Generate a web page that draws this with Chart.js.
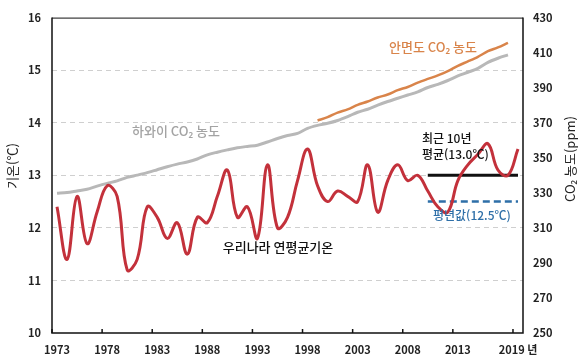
<!DOCTYPE html>
<html lang="ko">
<head>
<meta charset="utf-8">
<script src="https://cdn.jsdelivr.net/npm/chart.js@4.4.0/dist/chart.umd.min.js"></script>
<style>
  html, body { margin: 0; padding: 0; background: #fff; }
  canvas { display: block; }
</style>
</head>
<body>
<canvas id="myChart" width="578" height="359"></canvas>
<script>
const years = [1973, 1974, 1975, 1976, 1977, 1978, 1979, 1980, 1981, 1982,
    1983, 1984, 1985, 1986, 1987, 1988, 1989, 1990, 1991, 1992,
    1993, 1994, 1995, 1996, 1997, 1998, 1999, 2000, 2001, 2002,
    2003, 2004, 2005, 2006, 2007, 2008, 2009, 2010, 2011, 2012,
    2013, 2014, 2015, 2016, 2017, 2018, 2019];

// 우리나라 연평균기온 (°C)
const temperature = [12.4, 11.4, 12.6, 11.7, 12.3, 12.8, 12.6, 11.2, 11.4, 12.4,
    12.2, 11.8, 12.1, 11.5, 12.2, 12.1, 12.6, 13.1, 12.2, 12.4,
    11.8, 13.2, 12.0, 12.2, 12.9, 13.5, 12.8, 12.5, 12.7, 12.6,
    12.5, 13.2, 12.3, 12.9, 13.2, 12.9, 13.0, 12.7, 12.4, 12.3,
    12.9, 13.2, 13.4, 13.6, 13.1, 13.0, 13.5];

// 하와이 CO2 농도 (ppm), 1973-2018
const hawaiiCO2 = [329.7, 330.2, 331.1, 332.0, 333.8, 335.4, 336.8, 338.8, 340.1, 341.5,
    343.2, 344.9, 346.4, 347.6, 349.3, 351.7, 353.2, 354.5, 355.7, 356.5,
    357.2, 359.0, 361.0, 362.7, 363.9, 366.8, 368.5, 369.7, 371.3, 373.5,
    376.0, 377.7, 380.0, 382.1, 384.0, 385.8, 387.6, 390.1, 391.9, 394.1,
    396.7, 398.8, 401.0, 404.4, 406.8, 408.7];

// 안면도 CO2 농도 (ppm), 1999-2018
const anmyeonStart = 1999;
const anmyeonCO2 = [371.3, 373.2, 375.8, 377.6, 380.2, 382.1, 384.4, 386.1, 388.6, 390.4,
    392.9, 395.0, 397.0, 399.4, 402.5, 405.0, 407.6, 410.8, 413.0, 415.6];

// 최근 10년 평균 / 평년값
const recentFrom = 2010;
const recentAvg = 13.0;
const normalTemp = 12.5;

const tickYears = [1973, 1978, 1983, 1988, 1993, 1998, 2003, 2008, 2013, 2019];
const tempTicks = [10, 11, 12, 13, 14, 15, 16];
const co2Ticks = [250, 270, 290, 310, 330, 350, 370, 390, 410, 430];

const FONT = '"Noto Sans CJK KR", "Noto Sans", sans-serif';

const hawaiiData = years.map((yr, i) => i < hawaiiCO2.length ? hawaiiCO2[i] : null);
const anmyeonData = years.map(yr => {
    const k = yr - anmyeonStart;
    return k >= 0 && k < anmyeonCO2.length ? anmyeonCO2[k] : null;
});
const recentData = years.map(yr => yr >= recentFrom ? recentAvg : null);
const normalData = years.map(yr => yr >= recentFrom ? normalTemp : null);

const decorations = {
    id: 'decorations',
    afterDraw(chart) {
        const { ctx, chartArea: a, scales: { x } } = chart;
        ctx.save();

        // 테두리
        ctx.strokeStyle = '#111';
        ctx.lineWidth = 1;
        ctx.beginPath();
        ctx.moveTo(a.left, a.top + 0.5);
        ctx.lineTo(a.right, a.top + 0.5);
        ctx.stroke();
        ctx.lineWidth = 1.5;
        ctx.beginPath();
        ctx.moveTo(a.left, a.top);
        ctx.lineTo(a.left, a.bottom);
        ctx.lineTo(a.right, a.bottom);
        ctx.lineTo(a.right, a.top);
        ctx.stroke();

        // x축 눈금
        const half = (x.getPixelForValue(1) - x.getPixelForValue(0)) / 2;
        ctx.lineWidth = 1.5;
        tickYears.forEach(yr => {
            const px = x.getPixelForValue(years.indexOf(yr)) - half;
            ctx.beginPath();
            ctx.moveTo(px, a.bottom);
            ctx.lineTo(px, a.bottom - 4);
            ctx.stroke();
        });

        // 축 제목
        ctx.fillStyle = '#222';
        ctx.textAlign = 'center';
        ctx.textBaseline = 'middle';
        ctx.font = '13px ' + FONT;
        ctx.save();
        ctx.translate(12, 166);
        ctx.rotate(-Math.PI / 2);
        ctx.fillText('기온(℃)', 0, 0);
        ctx.restore();
        ctx.save();
        ctx.translate(570, 159);
        ctx.rotate(-Math.PI / 2);
        ctx.fillText('CO₂ 농도(ppm)', 0, 0);
        ctx.restore();

        // 주석
        ctx.font = '500 13px ' + FONT;
        ctx.fillStyle = '#a3a3a3';
        ctx.fillText('하와이 CO₂ 농도', 176, 131);
        ctx.fillStyle = '#d9844a';
        ctx.fillText('안면도 CO₂ 농도', 433, 47);
        ctx.fillStyle = '#111';
        ctx.fillText('우리나라 연평균기온', 278, 247);
        ctx.textAlign = 'left';
        ctx.font = '500 12px ' + FONT;
        ctx.fillText('최근 10년', 422, 138);
        ctx.fillText('평균(13.0℃)', 422, 154);
        ctx.fillStyle = '#2e6fa8';
        ctx.fillText('평년값(12.5℃)', 433, 215);

        ctx.restore();
    }
};

const ctx = document.getElementById('myChart').getContext('2d');
const myChart = new Chart(ctx, {
    type: 'line',
    data: {
        labels: years,
        datasets: [{
            label: '우리나라 연평균기온',
            data: temperature,
            yAxisID: 'y',
            borderColor: '#c3313b',
            borderWidth: 3,
            tension: 0.4,
            pointRadius: 0,
            order: 0
        },
        {
            label: '최근 10년 평균',
            data: recentData,
            yAxisID: 'y',
            borderColor: '#111',
            borderWidth: 3,
            tension: 0,
            pointRadius: 0,
            order: 1
        },
        {
            label: '평년값',
            data: normalData,
            yAxisID: 'y',
            borderColor: '#2e6fa8',
            borderWidth: 2.5,
            borderDash: [7, 4],
            tension: 0,
            pointRadius: 0,
            order: 2
        },
        {
            label: '안면도 CO2 농도',
            data: anmyeonData,
            yAxisID: 'y2',
            borderColor: '#d9844a',
            borderWidth: 2.5,
            tension: 0.3,
            pointRadius: 0,
            order: 3
        },
        {
            label: '하와이 CO2 농도',
            data: hawaiiData,
            yAxisID: 'y2',
            borderColor: '#b8b8b8',
            borderWidth: 3,
            tension: 0.3,
            pointRadius: 0,
            order: 4
        }
        ]
    },
    options: {
        responsive: false,
        animation: false,
        layout: {
            padding: { top: 13, left: 0, right: 0, bottom: 0 }
        },
        plugins: {
            legend: { display: false },
            tooltip: { enabled: false }
        },
        scales: {
            x: {
                offset: true,
                afterFit: scale => { scale.height = 26; },
                grid: { display: false, offset: true },
                border: { display: false },
                ticks: {
                    autoSkip: false,
                    maxRotation: 0,
                    padding: 2,
                    color: '#222',
                    font: { family: FONT, size: 11, weight: 'bold' },
                    callback: function (value, index) {
                        const yr = years[index];
                        if (!tickYears.includes(yr)) return '';
                        return yr === 2019 ? '2019 년' : String(yr);
                    }
                }
            },
            y: {
                position: 'left',
                min: tempTicks[0],
                max: tempTicks[tempTicks.length - 1],
                afterFit: scale => { scale.width = 52; },
                afterBuildTicks: scale => { scale.ticks = tempTicks.map(v => ({ value: v })); },
                grid: {
                    drawTicks: false,
                    color: c => (c.tick.value === 10 || c.tick.value === 16) ? 'rgba(0,0,0,0)' : '#cfcfcf',
                    lineWidth: 1
                },
                border: { display: false, dash: [5, 4] },
                ticks: {
                    padding: 11,
                    color: '#222',
                    font: { family: FONT, size: 11, weight: 'bold' }
                }
            },
            y2: {
                position: 'right',
                min: co2Ticks[0],
                max: co2Ticks[co2Ticks.length - 1],
                afterFit: scale => { scale.width = 55; },
                afterBuildTicks: scale => { scale.ticks = co2Ticks.map(v => ({ value: v })); },
                grid: { display: false, drawTicks: false },
                border: { display: false },
                ticks: {
                    padding: 10,
                    color: '#222',
                    font: { family: FONT, size: 11, weight: 'bold' }
                }
            }
        }
    },
    plugins: [decorations]
});
</script>
</body>
</html>
